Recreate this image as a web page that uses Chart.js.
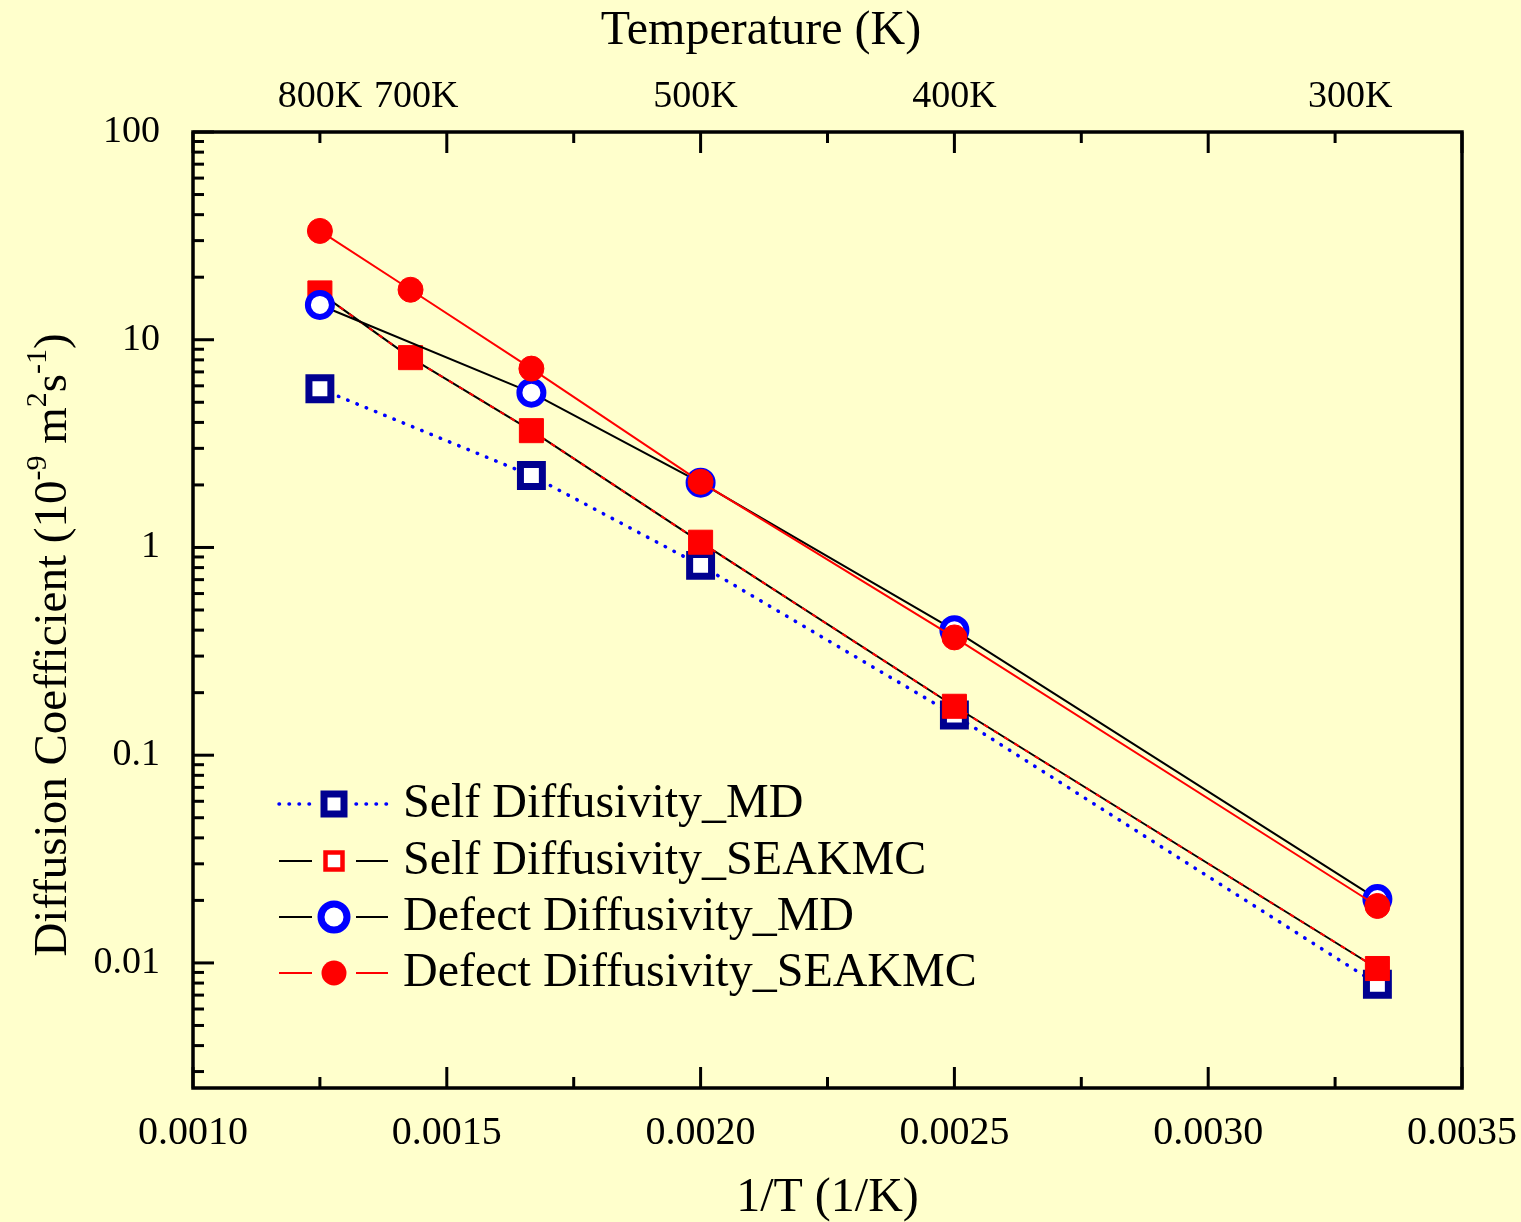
<!DOCTYPE html>
<html>
<head>
<meta charset="utf-8">
<script src="https://cdn.jsdelivr.net/npm/chart.js@4.4.1/dist/chart.umd.min.js"></script>
<style>
  html, body { margin: 0; padding: 0; background: #FFFFCC; overflow: hidden; }
  #wrap { width: 1521px; height: 1222px; }
</style>
</head>
<body>
<div id="wrap"><canvas id="c" width="1521" height="1222"></canvas></div>
<script>
// ---------------- DATA ----------------
const seriesNames = [
  'Self Diffusivity_MD',
  'Self Diffusivity_SEAKMC',
  'Defect Diffusivity_MD',
  'Defect Diffusivity_SEAKMC'
];
// Temperatures (K) of each series
const tempsSelfMD      = [800, 600, 500, 400, 300];
const tempsSelfSEAKMC  = [800, 700, 600, 500, 400, 300];
const tempsDefectMD    = [800, 600, 500, 400, 300];
const tempsDefectSEAKMC= [800, 700, 600, 500, 400, 300];
// Diffusion coefficients (10^-9 m^2 s^-1)
const valsSelfMD       = [5.81, 2.22, 0.82, 0.156, 0.0079];
const valsSelfSEAKMC   = [16.8, 8.2, 3.65, 1.06, 0.172, 0.0094];
const valsDefectMD     = [14.7, 5.56, 2.05, 0.40, 0.0203];
const valsDefectSEAKMC = [33.4, 17.4, 7.26, 2.07, 0.369, 0.0188];

// Axis ticks / labels
const xMajorTicks = [0.0010, 0.0015, 0.0020, 0.0025, 0.0030, 0.0035];
const xMinorTicks = [0.00125, 0.00175, 0.00225, 0.00275, 0.00325];
const yMajorTicks = [100, 10, 1, 0.1, 0.01];
const yTickLabels = ['100', '10', '1', '0.1', '0.01'];
const topLabels = ['800K', '700K', '500K', '400K', '300K'];
const topLabelPositions = [0.00125, 0.00144, 0.00199, 0.0025, 0.00328];
const xMin = 0.0010, xMax = 0.0035, yMin = 0.0025, yMax = 100;

const xTitle = '1/T (1/K)';
const topTitle = 'Temperature (K)';

// ---------------- HELPERS ----------------
const FONT = '"Liberation Serif", "Times New Roman", serif';
const BG = '#FFFFCC';
function pts(temps, vals) { return temps.map((t, i) => ({ x: 1 / t, y: vals[i] })); }

const ds = [
  {
    label: seriesNames[0], data: pts(tempsSelfMD, valsSelfMD), order: 5,
    borderColor: '#0000FF', borderWidth: 3.5, borderDash: [0.5, 9.5], borderCapStyle: 'round',
    pointStyle: 'rect', pointRadius: 15.5, pointBorderWidth: 7,
    pointBorderColor: '#000090', pointBackgroundColor: '#FFFFFF'
  },
  {
    label: seriesNames[1], data: pts(tempsSelfSEAKMC, valsSelfSEAKMC), order: 4,
    borderColor: '#000000', borderWidth: 2,
    pointStyle: 'rect', pointRadius: 17, pointBorderWidth: 1,
    pointBorderColor: '#FF0000', pointBackgroundColor: '#FF0000'
  },
  {
    label: '_overlay', data: pts(tempsSelfSEAKMC, valsSelfSEAKMC), order: 3.5,
    borderColor: '#FF0000', borderWidth: 2, borderDash: [5, 7],
    pointRadius: 0
  },
  {
    label: seriesNames[2], data: pts(tempsDefectMD, valsDefectMD), order: 3,
    borderColor: '#000000', borderWidth: 2,
    pointStyle: 'circle', pointRadius: 12, pointBorderWidth: 6,
    pointBorderColor: '#0000FF', pointBackgroundColor: '#FFFFFF'
  },
  {
    label: seriesNames[3], data: pts(tempsDefectSEAKMC, valsDefectSEAKMC), order: 1,
    borderColor: '#FF0000', borderWidth: 2,
    pointStyle: 'circle', pointRadius: 12.5, pointBorderWidth: 1,
    pointBorderColor: '#FF0000', pointBackgroundColor: '#FF0000'
  }
];
ds.forEach(d => { d.fill = false; d.tension = 0; d.pointHoverRadius = d.pointRadius; });

function drawMarker(ctx, style, x, y, size, border, stroke, fill) {
  ctx.save();
  ctx.lineWidth = border; ctx.strokeStyle = stroke; ctx.fillStyle = fill;
  ctx.beginPath();
  if (style === 'rect') ctx.rect(x - size / 2, y - size / 2, size, size);
  else ctx.arc(x, y, size / 2, 0, Math.PI * 2);
  ctx.fill(); if (border > 0) ctx.stroke();
  ctx.restore();
}

const decorPlugin = {
  id: 'decor',
  beforeDraw(chart) {
    const ctx = chart.ctx;
    ctx.save(); ctx.fillStyle = BG; ctx.fillRect(0, 0, chart.width, chart.height); ctx.restore();
  },
  afterDraw(chart) {
    const ctx = chart.ctx, ca = chart.chartArea;
    const xs = chart.scales.x, ys = chart.scales.y;
    ctx.save();
    ctx.strokeStyle = '#000'; ctx.lineCap = 'butt';
    // tick marks (inward)
    ctx.lineWidth = 3;
    const seg = (x1, y1, x2, y2) => { ctx.beginPath(); ctx.moveTo(x1, y1); ctx.lineTo(x2, y2); ctx.stroke(); };
    xMajorTicks.forEach(v => { const p = xs.getPixelForValue(v); seg(p, ca.bottom, p, ca.bottom - 21); seg(p, ca.top, p, ca.top + 21); });
    xMinorTicks.forEach(v => { const p = xs.getPixelForValue(v); seg(p, ca.bottom, p, ca.bottom - 11); seg(p, ca.top, p, ca.top + 11); });
    yMajorTicks.forEach(v => { const p = ys.getPixelForValue(v); seg(ca.left, p, ca.left + 21, p); });
    for (let e = Math.floor(Math.log10(yMin)); e < Math.log10(yMax); e++) {
      for (let m = 2; m <= 9; m++) {
        const v = m * Math.pow(10, e);
        if (v > yMin && v < yMax) { const p = ys.getPixelForValue(v); seg(ca.left, p, ca.left + 11, p); }
      }
    }
    // frame
    ctx.lineWidth = 3.5;
    ctx.strokeRect(ca.left, ca.top, ca.right - ca.left, ca.bottom - ca.top);

    // titles
    ctx.fillStyle = '#000';
    ctx.font = '48px ' + FONT;
    ctx.textAlign = 'center'; ctx.textBaseline = 'alphabetic';
    ctx.fillText(xTitle, (ca.left + ca.right) / 2, 1211);
    ctx.fillText(topTitle, 761, 44);

    // y title with superscripts
    const parts = [
      { t: 'Diffusion Coefficient (10', s: false },
      { t: '-9', s: true },
      { t: ' m', s: false },
      { t: '2', s: true },
      { t: 's', s: false },
      { t: '-1', s: true },
      { t: ')', s: false }
    ];
    const mainF = '47px ' + FONT, supF = '30px ' + FONT;
    let total = 0;
    parts.forEach(p => { ctx.font = p.s ? supF : mainF; p.w = ctx.measureText(p.t).width; total += p.w; });
    ctx.save();
    ctx.translate(66, 645); ctx.rotate(-Math.PI / 2);
    ctx.textAlign = 'left';
    let cx = -total / 2;
    parts.forEach(p => { ctx.font = p.s ? supF : mainF; ctx.fillText(p.t, cx, p.s ? -20 : 0); cx += p.w; });
    ctx.restore();

    // legend
    const rows = [
      { name: seriesNames[0], y: 804, line: '#0000FF', dash: [0.5, 9.5], lw: 3.5, cap: 'round', m: 'rect', size: 20, bw: 7, stroke: '#000090', fill: '#FFFFFF' },
      { name: seriesNames[1], y: 861, line: '#000000', dash: [], lw: 2, cap: 'butt', m: 'rect', size: 17, bw: 4.5, stroke: '#FF0000', fill: '#FFFFFF' },
      { name: seriesNames[2], y: 917, line: '#000000', dash: [], lw: 2, cap: 'butt', m: 'circle', size: 26, bw: 7, stroke: '#0000FF', fill: '#FFFFFF' },
      { name: seriesNames[3], y: 973, line: '#FF0000', dash: [], lw: 2, cap: 'butt', m: 'circle', size: 25, bw: 0, stroke: '#FF0000', fill: '#FF0000' }
    ];
    rows.forEach(r => {
      ctx.save();
      ctx.strokeStyle = r.line; ctx.lineWidth = r.lw; ctx.setLineDash(r.dash); ctx.lineCap = r.cap;
      seg(279, r.y, 312, r.y); seg(356, r.y, 388, r.y);
      ctx.restore();
      drawMarker(ctx, r.m, 334, r.y, r.size, r.bw, r.stroke, r.fill);
      ctx.save();
      ctx.fillStyle = '#000'; ctx.font = '48px ' + FONT;
      ctx.textAlign = 'left'; ctx.textBaseline = 'middle';
      ctx.fillText(r.name, 403, r.y);
      ctx.restore();
    });
    ctx.restore();
  }
};

new Chart(document.getElementById('c'), {
  type: 'line',
  data: { datasets: ds },
  options: {
    responsive: false,
    animation: false,
    devicePixelRatio: 1,
    events: [],
    layout: { padding: { left: 0, right: 59, top: 0, bottom: 0 } },
    plugins: { legend: { display: false }, tooltip: { enabled: false }, title: { display: false } },
    scales: {
      x: {
        type: 'linear', position: 'bottom', min: xMin, max: xMax,
        afterBuildTicks: s => { s.ticks = xMajorTicks.map(v => ({ value: v })); },
        afterFit: s => { s.height = 134; s.paddingLeft = 0; s.paddingRight = 0; },
        grid: { display: false }, border: { display: false },
        ticks: { autoSkip: false, maxRotation: 0, padding: 13, color: '#000',
          font: { family: FONT, size: 40 }, callback: v => Number(v).toFixed(4) }
      },
      x2: {
        type: 'linear', position: 'top', min: xMin, max: xMax,
        afterBuildTicks: s => { s.ticks = topLabelPositions.map(v => ({ value: v })); },
        afterFit: s => { s.height = 132; s.paddingLeft = 0; s.paddingRight = 0; },
        grid: { display: false }, border: { display: false },
        ticks: { autoSkip: false, maxRotation: 0, padding: 4, color: '#000',
          font: { family: FONT, size: 38 }, callback: (v, i) => topLabels[i] }
      },
      y: {
        type: 'logarithmic', position: 'left', min: yMin, max: yMax,
        afterBuildTicks: s => { s.ticks = yMajorTicks.map(v => ({ value: v })); },
        afterFit: s => { s.width = 193; s.paddingTop = 0; s.paddingBottom = 0; },
        grid: { display: false }, border: { display: false },
        ticks: { autoSkip: false, padding: 25, color: '#000',
          font: { family: FONT, size: 38 }, callback: (v, i) => yTickLabels[i] }
      }
    }
  },
  plugins: [decorPlugin]
});
</script>
</body>
</html>
